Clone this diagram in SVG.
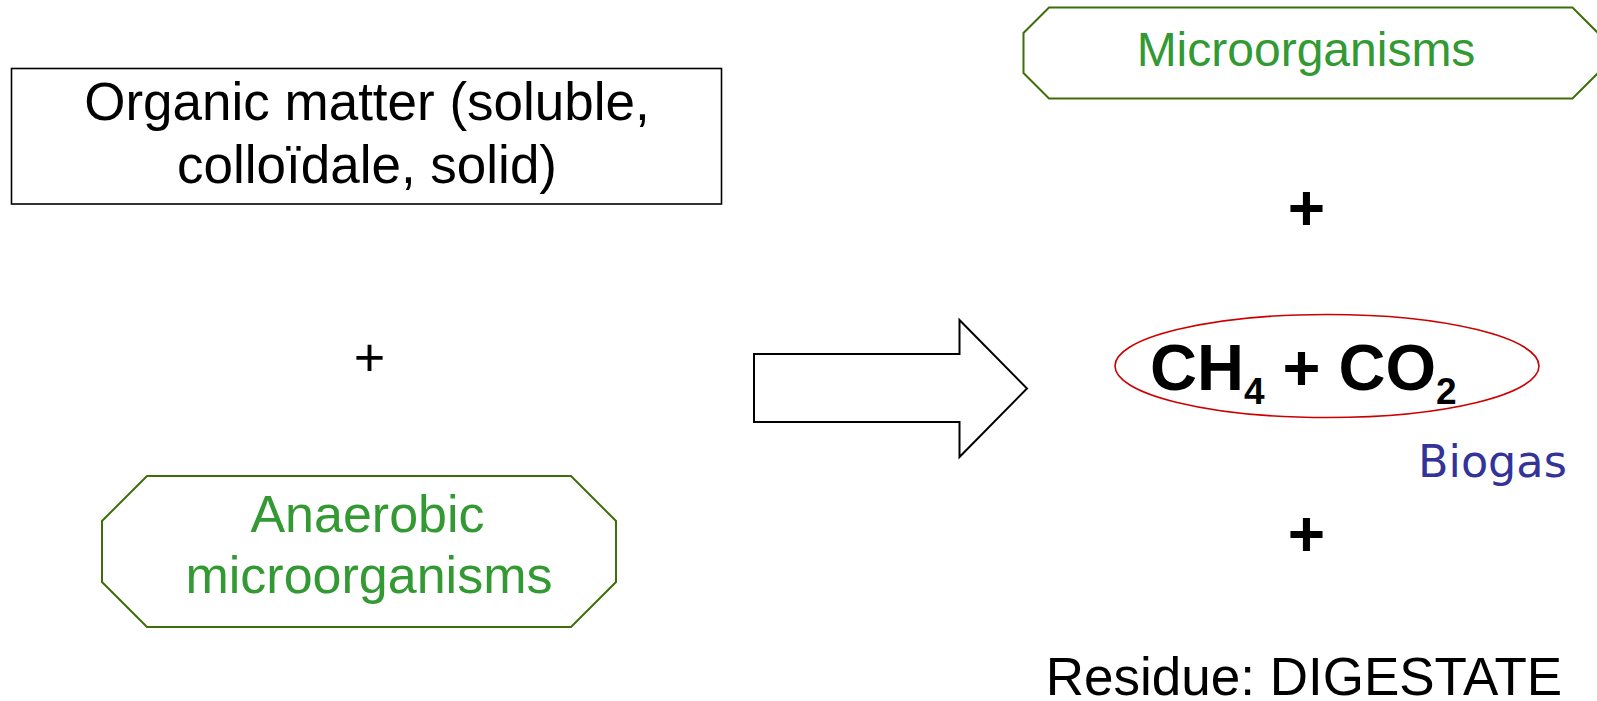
<svg xmlns="http://www.w3.org/2000/svg" width="1597" height="701" viewBox="0 0 1597 701">
<style>
.t{font-family:"Liberation Sans",Arial,sans-serif;}
.blk{fill:#000;}
.grn{fill:#339933;}
.oct{fill:#fff;stroke:#3d6e0a;stroke-width:2;}
.box{fill:#fff;stroke:#000;stroke-width:1.6;}
.plusB{font-family:"Liberation Sans",Arial,sans-serif;font-weight:bold;font-size:64px;fill:#000;}
</style>
<rect width="1597" height="701" fill="#fff"/>
<g id="organic">
<rect class="box" x="11.5" y="68.5" width="710" height="135.5"/>
<text class="t blk" font-size="53" text-anchor="middle" x="367" y="120">Organic matter (soluble,</text>
<text class="t blk" font-size="53" text-anchor="middle" x="367" y="183">colloïdale, solid)</text>
</g>
<g id="plus-left">
<text class="t blk" font-size="54" text-anchor="middle" x="369.5" y="376">+</text>
</g>
<g id="anaerobic">
<polygon class="oct" points="147,476 571,476 616,521 616,582 571,627 147,627 102,582 102,521"/>
<text class="t grn" font-size="52" text-anchor="middle" x="367.5" y="532">Anaerobic</text>
<text class="t grn" font-size="52" text-anchor="middle" x="369" y="593">microorganisms</text>
</g>
<g id="connectors">
<polygon points="754,354 959.5,354 959.5,320 1027,388.5 959.5,457 959.5,422 754,422" fill="#fff" stroke="#000" stroke-width="2"/>
</g>
<g id="microorganisms">
<polygon class="oct" points="1049,7.5 1572.5,7.5 1598,33 1598,73 1572.5,98.5 1049,98.5 1023.5,73 1023.5,33"/>
<text class="t grn" font-size="48" text-anchor="middle" x="1306" y="66">Microorganisms</text>
</g>
<g id="plus-right-top">
<text class="plusB" text-anchor="middle" x="1306.5" y="230">+</text>
</g>
<g id="biogas">
<ellipse cx="1327" cy="366" rx="212" ry="51.5" fill="none" stroke="#cc0000" stroke-width="1.6"/>
<text class="t blk" font-weight="bold" font-size="65" x="1150" y="390">CH<tspan font-size="37" dy="14">4</tspan><tspan dy="-14"> + CO</tspan><tspan font-size="37" dy="14">2</tspan></text>
<text font-family="'DejaVu Sans',sans-serif" font-size="44.5" fill="#333399" x="1418" y="477">Biogas</text>
</g>
<g id="plus-right-bottom">
<text class="plusB" text-anchor="middle" x="1306.5" y="556">+</text>
</g>
<g id="residue">
<text class="t blk" font-size="53" text-anchor="middle" x="1304" y="695">Residue: DIGESTATE</text>
</g>
</svg>
